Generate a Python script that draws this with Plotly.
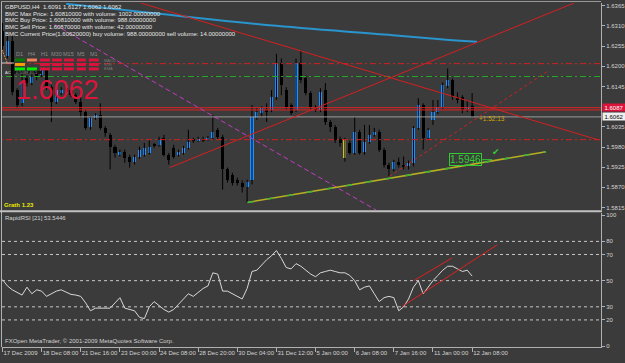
import plotly.graph_objects as go

W, H = 625, 363
BG = "#3b3b3b"

# ---------------- data ----------------
opens = [1.6297, 1.6229, 1.6270, 1.6135, 1.6099, 1.6167, 1.6154, 1.6183, 1.6175, 1.6189,
         1.6143, 1.6102, 1.6127, 1.6140, 1.6135, 1.6121, 1.6102, 1.6075, 1.6035, 1.6059,
         1.6067, 1.6032, 1.6013, 1.5981, 1.5959, 1.5967, 1.5954, 1.5940, 1.5954, 1.5959,
         1.5964, 1.5986, 1.5986, 1.6005, 1.5959, 1.5978, 1.5959, 1.5964, 1.5978, 1.5999,
         1.5999, 1.6002, 1.5999, 1.6005, 1.6027, 1.6008, 1.5919, 1.5905, 1.5891, 1.5883,
         1.5872, 1.5891, 1.6059, 1.6072, 1.6081, 1.6081, 1.6116, 1.6210, 1.6135, 1.6094,
         1.6081, 1.6208, 1.6167, 1.6127, 1.6089, 1.6081, 1.6135, 1.6048, 1.6035, 1.6002,
         1.5999, 1.5991, 1.5964, 1.6021, 1.5967, 1.5994, 1.6013, 1.6021, 1.5973, 1.5932,
         1.5919, 1.5940, 1.5932, 1.5927, 1.5937, 1.6032, 1.6094, 1.6005, 1.6054, 1.6075,
         1.6089, 1.6145, 1.6162, 1.6116, 1.6116, 1.6083, 1.6091]
highs = [1.6318, 1.6283, 1.6283, 1.6140, 1.6189, 1.6175, 1.6178, 1.6189, 1.6194, 1.6197,
         1.6148, 1.6140, 1.6143, 1.6145, 1.6140, 1.6127, 1.6116, 1.6081, 1.6064, 1.6072,
         1.6099, 1.6037, 1.6018, 1.5986, 1.5973, 1.5973, 1.5959, 1.5959, 1.5981, 1.5991,
         1.5999, 1.5991, 1.6008, 1.6013, 1.5964, 1.5986, 1.5973, 1.5983, 1.6027, 1.6005,
         1.6008, 1.6008, 1.6010, 1.6067, 1.6032, 1.6013, 1.5924, 1.5910, 1.5897, 1.5889,
         1.5891, 1.6094, 1.6086, 1.6091, 1.6099, 1.6135, 1.6234, 1.6221, 1.6143, 1.6099,
         1.6221, 1.6243, 1.6175, 1.6132, 1.6094, 1.6140, 1.6154, 1.6054, 1.6040, 1.6008,
         1.6005, 1.5997, 1.6062, 1.6027, 1.6040, 1.6040, 1.6032, 1.6027, 1.5978, 1.5937,
         1.5945, 1.5951, 1.5954, 1.5943, 1.6037, 1.6113, 1.6099, 1.6032, 1.6108, 1.6108,
         1.6156, 1.6194, 1.6167, 1.6129, 1.6121, 1.6108, 1.6127]
lows = [1.6243, 1.6221, 1.6121, 1.6086, 1.6091, 1.6145, 1.6148, 1.6162, 1.6170, 1.6135,
        1.6048, 1.6097, 1.6121, 1.6121, 1.6116, 1.6097, 1.6059, 1.6027, 1.6027, 1.6054,
        1.6027, 1.6008, 1.5919, 1.5951, 1.5954, 1.5937, 1.5924, 1.5932, 1.5948, 1.5954,
        1.5959, 1.5978, 1.5981, 1.5954, 1.5932, 1.5948, 1.5954, 1.5959, 1.5973, 1.5991,
        1.5994, 1.5994, 1.5997, 1.5999, 1.6002, 1.5864, 1.5883, 1.5875, 1.5875, 1.5856,
        1.5829, 1.5878, 1.6054, 1.6062, 1.6048, 1.6075, 1.6108, 1.6121, 1.6081, 1.6067,
        1.6075, 1.6154, 1.6121, 1.6081, 1.6075, 1.6075, 1.6040, 1.6021, 1.5991, 1.5981,
        1.5940, 1.5959, 1.5959, 1.5959, 1.5959, 1.5989, 1.6008, 1.5967, 1.5924, 1.5900,
        1.5913, 1.5924, 1.5919, 1.5919, 1.5927, 1.6027, 1.5973, 1.5999, 1.6040, 1.6070,
        1.6083, 1.6140, 1.6108, 1.6099, 1.6072, 1.6075, 1.6062]
closes = [1.6256, 1.6270, 1.6129, 1.6094, 1.6162, 1.6154, 1.6170, 1.6170, 1.6189, 1.6143,
          1.6102, 1.6135, 1.6135, 1.6129, 1.6121, 1.6102, 1.6075, 1.6032, 1.6059, 1.6067,
          1.6032, 1.6018, 1.5981, 1.5964, 1.5967, 1.5951, 1.5940, 1.5954, 1.5973, 1.5978,
          1.5981, 1.5983, 1.5999, 1.5959, 1.5945, 1.5954, 1.5967, 1.5978, 1.5994, 1.5997,
          1.6002, 1.5999, 1.6005, 1.6021, 1.6008, 1.5919, 1.5891, 1.5883, 1.5881, 1.5872,
          1.5886, 1.6062, 1.6075, 1.6086, 1.6078, 1.6116, 1.6210, 1.6148, 1.6089, 1.6072,
          1.6208, 1.6162, 1.6127, 1.6089, 1.6081, 1.6129, 1.6048, 1.6035, 1.5999, 1.5991,
          1.5951, 1.5964, 1.6021, 1.5964, 1.5994, 1.6013, 1.6021, 1.5973, 1.5932, 1.5919,
          1.5940, 1.5932, 1.5927, 1.5937, 1.6032, 1.6094, 1.6005, 1.6027, 1.6075, 1.6089,
          1.6148, 1.6162, 1.6116, 1.6108, 1.6081, 1.6089, 1.6062]
bars = list(range(len(closes)))
highlight_bar = 70

rsi = [50.8, 46, 43, 41, 39, 45, 40, 43, 42, 38,
       40, 42, 43, 41, 39.5, 39, 38, 33, 27, 29,
       29, 29, 29, 33, 37, 29, 28, 27, 22, 21,
       30, 34, 31, 28, 26, 28, 32, 36, 40, 38,
       41, 44, 46, 56, 55, 42, 42, 40, 38, 36,
       44, 57, 58, 62, 66, 69, 73, 67, 60, 59,
       63, 61, 58, 55, 53, 56, 57, 58, 57, 56,
       56, 54, 50, 43, 45, 46, 40, 34, 37, 38,
       37, 27, 30, 36, 45, 50, 40, 45, 50, 54,
       58, 61, 61, 59, 57, 58, 53.5]

date_ticks = [0, 8, 16, 24, 32, 40, 48, 56, 64, 72, 80, 88, 96]
date_labels = ["17 Dec 2009", "18 Dec 08:00", "21 Dec 16:00", "23 Dec 00:00", "24 Dec 08:00",
               "28 Dec 20:00", "30 Dec 04:00", "31 Dec 12:00", "5 Jan 00:00", "6 Jan 08:00",
               "7 Jan 16:00", "11 Jan 00:00", "12 Jan 08:00"]
price_ticks = [1.6365, 1.6310, 1.6255, 1.6200, 1.6145, 1.6035, 1.5980, 1.5925, 1.5870, 1.5815]
rsi_ticks = [100, 80, 70, 50, 30, 20, 0]
rsi_levels = [80, 70, 50, 30, 20]

ma_bars = [13, 32, 56, 81, 89, 92, 97]
ma_vals = [1.6370, 1.6343, 1.6310, 1.6283, 1.6274, 1.6271, 1.6267]

tl_down_x, tl_down_y = [28.3, 121.9], [1.6372, 1.5999]
tl_up_x, tl_up_y = [34.2, 116.8], [1.5924, 1.6372]
tl_updash_x, tl_updash_y = [79.1, 111.7], [1.5900, 1.6189]
tl_mag_x, tl_mag_y = [10.7, 76.4], [1.6313, 1.5808]
tl_sup_x, tl_sup_y = [50.1, 111.1], [1.5829, 1.5967]
rsi_tl_a_x, rsi_tl_a_y = [84.2, 91.9], [50.2, 67.4]
rsi_tl_b_x, rsi_tl_b_y = [81.7, 101.1], [30.3, 77.3]

hlines = [(1.6207, "#d42020", "6px,3px,2px,3px"), (1.6172, "#22aa22", "6px,3px,2px,3px"),
          (1.6000, "#d42020", "6px,3px,2px,3px"), (1.6087, "#e02020", "solid"),
          (1.6081, "#e02020", "solid"), (1.6062, "#9c9c9c", "solid")]

info_lines = ["GBPUSD,H4  1.6091 1.6127 1.6062 1.6062",
              "BMC Max Price: 1.60810000 with volume: 1002.00000000",
              "BMC Buy Price: 1.60810000 with volume: 988.00000000",
              "BMC Sell Price: 1.60870000 with volume: 42.00000000",
              "BMC Current Price(1.60620000) buy volume: 988.00000000 sell volume: 14.00000000"]

# ---------------- helpers ----------------
def px(x):
    return x / W


def py(y):
    return 1 - y / H


XR = [-0.1, 122.35]
FONT = "Liberation Sans, Arial, sans-serif"
TXT = "#d2d2d2"

fig = go.Figure()

# wicks
wx, wy = [], []
for i in bars:
    wx += [i, i, None]
    wy += [lows[i], highs[i], None]
fig.add_trace(go.Scatter(x=wx, y=wy, mode="lines", line=dict(color="#000000", width=1),
                         hoverinfo="skip", xaxis="x", yaxis="y"))

# bodies
base, hgt, cols = [], [], []
for i in bars:
    o, c = opens[i], closes[i]
    lo, hi = min(o, c), max(o, c)
    if hi - lo < 0.00025:
        mid = (hi + lo) / 2
        lo, hi = mid - 0.000125, mid + 0.000125
    base.append(lo)
    hgt.append(hi - lo)
    if i == highlight_bar:
        cols.append("#c8c040")
    elif c >= o:
        cols.append("#1e90ff")
    else:
        cols.append("#000000")
fig.add_trace(go.Bar(x=bars, y=hgt, base=base, width=0.62, marker=dict(color=cols, line=dict(width=0)),
                     hoverinfo="skip", xaxis="x", yaxis="y"))

# horizontal lines
for lvl, colr, dsh in hlines:
    fig.add_trace(go.Scatter(x=[-5, 130], y=[lvl, lvl], mode="lines",
                             line=dict(color=colr, width=1, dash=dsh), hoverinfo="skip"))

# moving average (blue)
fig.add_trace(go.Scatter(x=ma_bars, y=ma_vals, mode="lines", line=dict(color="#2a94cc", width=2, shape="spline"),
                         hoverinfo="skip"))
# trend lines
fig.add_trace(go.Scatter(x=tl_down_x, y=tl_down_y, mode="lines", line=dict(color="#d42020", width=1)))
fig.add_trace(go.Scatter(x=tl_up_x, y=tl_up_y, mode="lines", line=dict(color="#d42020", width=1)))
fig.add_trace(go.Scatter(x=tl_updash_x, y=tl_updash_y, mode="lines",
                         line=dict(color="#d42020", width=1, dash="3px,3px")))
fig.add_trace(go.Scatter(x=tl_mag_x, y=tl_mag_y, mode="lines",
                         line=dict(color="#c23cc2", width=1, dash="5px,3px")))
fig.add_trace(go.Scatter(x=tl_sup_x, y=tl_sup_y, mode="lines", line=dict(color="#b8b020", width=1.5)))
fig.add_trace(go.Scatter(x=tl_sup_x, y=tl_sup_y, mode="lines",
                         line=dict(color="#3cb43c", width=1.5, dash="6px,14px")))

# RSI
fig.add_trace(go.Scatter(x=bars, y=rsi, mode="lines", line=dict(color="#d8d8d8", width=1),
                         xaxis="x2", yaxis="y2"))
for lv in rsi_levels:
    fig.add_trace(go.Scatter(x=[-5, 130], y=[lv, lv], mode="lines",
                             line=dict(color="#c8c8c8", width=1, dash="3px,3px"), xaxis="x2", yaxis="y2"))
fig.add_trace(go.Scatter(x=rsi_tl_a_x, y=rsi_tl_a_y, mode="lines", line=dict(color="#e02020", width=1),
                         xaxis="x2", yaxis="y2"))
fig.add_trace(go.Scatter(x=rsi_tl_b_x, y=rsi_tl_b_y, mode="lines", line=dict(color="#e02020", width=1),
                         xaxis="x2", yaxis="y2"))

axis_common = dict(showgrid=False, zeroline=False)
fig.update_layout(
    width=W, height=H, margin=dict(l=0, r=0, t=0, b=0),
    paper_bgcolor=BG, plot_bgcolor=BG, showlegend=False, bargap=0,
    font=dict(family=FONT, size=6, color=TXT),
    xaxis=dict(domain=[px(2), px(602)], range=XR, showticklabels=False, ticks="", anchor="y",
               showline=False, **axis_common),
    yaxis=dict(domain=[py(211), py(2)], range=[1.58077, 1.63723], side="right", anchor="x",
               tickvals=price_ticks, ticktext=[f"{v:.4f}" for v in price_ticks],
               ticks="outside", ticklen=3, tickcolor="#b0b0b0", showline=True, linecolor="#b0b0b0",
               linewidth=1, tickfont=dict(size=6, color=TXT, family=FONT), **axis_common),
    xaxis2=dict(domain=[px(2), px(602)], range=XR, anchor="y2", tickvals=date_ticks, ticktext=date_labels,
                ticks="outside", ticklen=4, tickcolor="#b0b0b0", ticklabelposition="outside right",
                tickangle=0, showline=True, linecolor="#b0b0b0", linewidth=1,
                tickfont=dict(size=6, color=TXT, family=FONT), **axis_common),
    yaxis2=dict(domain=[py(349), py(214)], range=[-0.76, 101.5], side="right", anchor="x2",
                tickvals=rsi_ticks, ticktext=[str(v) for v in rsi_ticks], ticks="outside", ticklen=3,
                tickcolor="#b0b0b0", showline=True, linecolor="#b0b0b0", linewidth=1,
                tickfont=dict(size=6, color=TXT, family=FONT), **axis_common),
)

shapes = []
# frame
shapes.append(dict(type="line", xref="paper", yref="paper", x0=px(1.5), x1=px(1.5), y0=py(0), y1=py(349),
                   line=dict(color="#b4b4b4", width=1)))
shapes.append(dict(type="line", xref="paper", yref="paper", x0=px(1), x1=px(602), y0=py(0.5), y1=py(0.5),
                   line=dict(color="#9a9a9a", width=1)))
shapes.append(dict(type="line", xref="paper", yref="paper", x0=px(0), x1=px(603), y0=py(212), y1=py(212),
                   line=dict(color="#c0c0c0", width=2)))
# small fibo-like marks top-left
shapes.append(dict(type="line", xref="paper", yref="paper", x0=px(2), x1=px(7.5), y0=py(49), y1=py(63),
                   line=dict(color="#e08030", width=1, dash="2px,1px")))
shapes.append(dict(type="line", xref="paper", yref="paper", x0=px(2), x1=px(14), y0=py(62.5), y1=py(62.5),
                   line=dict(color="#d0d0d0", width=1)))

# multi-timeframe panel
col_x = [(15, 25), (27, 37), (40, 50), (52, 62), (64, 74), (77, 86), (89, 99)]
row_y = [(58, 61), (62.5, 65.5), (67, 70)]
crim = "#dc143c"
row_cols = [["#008000", "#f4805c"] + [crim] * 5,
            ["#f5a000", None] + [crim] * 5,
            ["#00ee00", "#00ee00"] + [crim] * 5]
for r, (y0, y1) in enumerate(row_y):
    for c, (x0, x1) in enumerate(col_x):
        colr = row_cols[r][c]
        if colr is None:
            continue
        shapes.append(dict(type="rect", xref="paper", yref="paper", x0=px(x0), x1=px(x1), y0=py(y1), y1=py(y0),
                           fillcolor=colr, line=dict(width=0), layer="above"))
shapes.append(dict(type="rect", xref="paper", yref="paper", x0=px(13), x1=px(42), y0=py(73.5), y1=py(70.5),
                   fillcolor="#101010", line=dict(width=0)))
# green label connector
shapes.append(dict(type="line", xref="paper", yref="paper", x0=px(483), x1=px(493), y0=py(160), y1=py(160),
                   line=dict(color="#32cd32", width=1)))
fig.update_layout(shapes=shapes)

ann = []
for k, t in enumerate(info_lines):
    yy = [6, 12.8, 19.3, 26, 33.5][k]
    ann.append(dict(text=t, xref="paper", yref="paper", x=px(3), y=py(yy), xanchor="left", yanchor="middle",
                    showarrow=False, font=dict(size=6, color="#e6e6e6", family=FONT)))
for lab, (x0, x1) in zip(["D1", "H4", "H1", "M30", "M15", "M5", "M1"], col_x):
    ann.append(dict(text=lab, xref="paper", yref="paper", x=px((x0 + x1) / 2), y=py(53), xanchor="center",
                    yanchor="middle", showarrow=False, font=dict(size=5.5, color="#8c8c8c", family=FONT)))
for lab, yy in zip(["MACD", "STR", "EMA"], [59.5, 64, 68.5]):
    ann.append(dict(text=lab, xref="paper", yref="paper", x=px(102), y=py(yy), xanchor="left",
                    yanchor="middle", showarrow=False, font=dict(size=4, color="#7a7a7a", family=FONT)))
ann.append(dict(text="AC", xref="paper", yref="paper", x=px(3.5), y=py(72), xanchor="left", yanchor="middle",
                showarrow=False, font=dict(size=4, color="#e0e0e0", family=FONT)))
ann.append(dict(text="0.5088 40.1", xref="paper", yref="paper", x=px(14), y=py(72), xanchor="left",
                yanchor="middle", showarrow=False, font=dict(size=4, color="#9a9a9a", family=FONT)))
ann.append(dict(text="1.6062", xref="paper", yref="paper", x=px(14), y=py(89.5), xanchor="left",
                yanchor="middle", showarrow=False, font=dict(size=27, color=crim, family=FONT)))
ann.append(dict(text="<b>Grath 1.23</b>", xref="paper", yref="paper", x=px(2), y=py(205.5), xanchor="left",
                yanchor="middle", showarrow=False, font=dict(size=6, color="#e8e800", family=FONT)))
ann.append(dict(text="+1:52:13", xref="x", yref="y", x=97, y=1.6059, xanchor="left", yanchor="middle",
                showarrow=False, font=dict(size=6.5, color="#d8a800", family=FONT)))
ann.append(dict(text="1.5946", xref="x", yref="y", x=94.7, y=1.5946, xanchor="center", yanchor="middle",
                showarrow=False, font=dict(size=10, color="#32cd32", family=FONT), bordercolor="#32cd32",
                borderwidth=1, borderpad=0))
ann.append(dict(text="\u2714", xref="x", yref="y", x=100.9, y=1.5966, xanchor="center", yanchor="middle",
                showarrow=False, font=dict(size=9, color="#32cd32", family="DejaVu Sans")))
ann.append(dict(text="1.6087", xref="paper", yref="y", x=px(602.5), y=1.6087, xanchor="left", yanchor="middle",
                showarrow=False, bgcolor=crim, font=dict(size=6, color="#ffffff", family=FONT),
                width=21, borderpad=0.5))
ann.append(dict(text="1.6062", xref="paper", yref="y", x=px(602.5), y=1.6062, xanchor="left", yanchor="middle",
                showarrow=False, bgcolor="#f0f0f0", font=dict(size=6, color="#000000", family=FONT),
                width=21, borderpad=0.5))
ann.append(dict(text="RapidRSI [21] 53.5446", xref="paper", yref="paper", x=px(3), y=py(218.5),
                xanchor="left", yanchor="middle", showarrow=False, font=dict(size=6, color=TXT, family=FONT)))
ann.append(dict(text="FXOpen MetaTrader, \u00a9 2001-2009 MetaQuotes Software Corp.", xref="paper", yref="paper",
                x=px(3), y=py(343), xanchor="left", yanchor="middle", showarrow=False,
                font=dict(size=6, color=TXT, family=FONT)))
fig.update_layout(annotations=ann)

fig.write_html("out.html")
